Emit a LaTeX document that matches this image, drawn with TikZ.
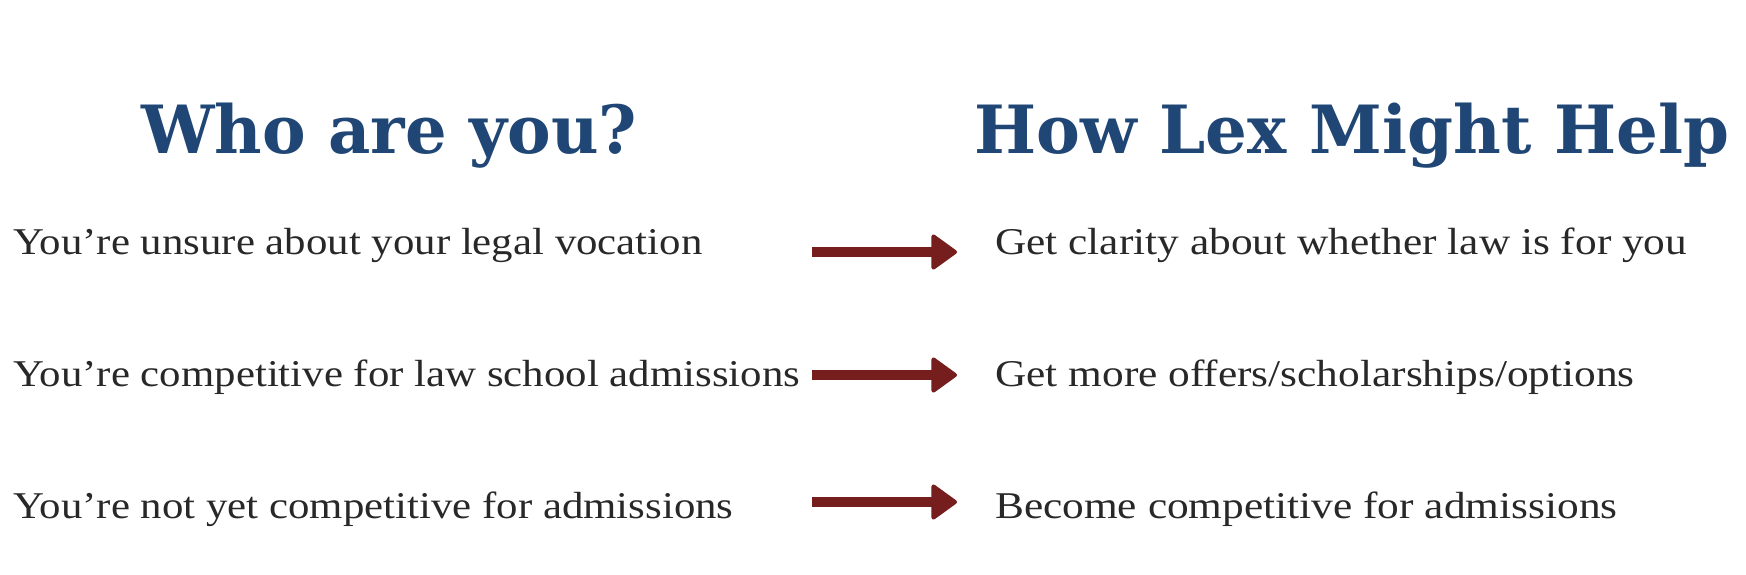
\documentclass[tikz,border=0pt]{standalone}
\usepackage{fontspec}
\setmainfont{Liberation Serif}
\newfontfamily\titlefont{DejaVu Serif}
\usetikzlibrary{arrows.meta}
\definecolor{titleblue}{RGB}{31,70,117}
\definecolor{arrowred}{RGB}{118,29,29}
\definecolor{bodygray}{RGB}{40,40,40}
\newlength\fitlen
\newcommand\bodyf{\fontsize{37.8}{40}\selectfont}
\newcommand\headf{\titlefont\bfseries\fontsize{66.5}{70}\selectfont}
\tikzset{
  bodytext/.style={inner sep=0pt, anchor=base west, text=bodygray, font=\bodyf},
  headtext/.style={inner sep=0pt, anchor=base west, text=titleblue, font=\headf},
  bigarrow/.style={draw=arrowred, line width=10pt,
    -{Triangle[length=27pt,width=38pt,round,line width=4pt]}}
}
\begin{document}
\settowidth\fitlen{\bodyf You’re competitive for law school admissions}%
\edef\lsc{\fpeval{787pt/\fitlen}}%
\settowidth\fitlen{\bodyf Get clarity about whether law is for you}%
\edef\rsc{\fpeval{692pt/\fitlen}}%
\settowidth\fitlen{\headf Who are you?}%
\edef\tlsc{\fpeval{496pt/\fitlen}}%
\settowidth\fitlen{\headf How Lex Might Help}%
\edef\trsc{\fpeval{755pt/\fitlen}}%
\begin{tikzpicture}[x=1pt,y=-1pt]
\fill[white] (0,0) rectangle (1746,574);
\useasboundingbox (0,0) rectangle (1746,574);
% titles
\node[headtext] (h1) at (141,153) {\scalebox{\tlsc}[1]{Who are you?}};
\node[headtext] (h2) at (974,153) {\scalebox{\trsc}[1]{How Lex Might Help}};
% left column
\node[bodytext] (l1) at (13,254) {\scalebox{\lsc}[1]{You’re unsure about your legal vocation}};
\node[bodytext] (l2) at (13,386) {\scalebox{\lsc}[1]{You’re competitive for law school admissions}};
\node[bodytext] (l3) at (13,518) {\scalebox{\lsc}[1]{You’re not yet competitive for admissions}};
% right column
\node[bodytext] (r1) at (995,254) {\scalebox{\rsc}[1]{Get clarity about whether law is for you}};
\node[bodytext] (r2) at (995,386) {\scalebox{\rsc}[1]{Get more offers/scholarships/options}};
\node[bodytext] (r3) at (995,518) {\scalebox{\rsc}[1]{Become competitive for admissions}};
% arrows
\coordinate (s1) at (812,252); \coordinate (e1) at (957,252);
\coordinate (s2) at (812,375); \coordinate (e2) at (957,375);
\coordinate (s3) at (812,502); \coordinate (e3) at (957,502);
\draw[bigarrow] (s1) -- (e1);
\draw[bigarrow] (s2) -- (e2);
\draw[bigarrow] (s3) -- (e3);
\end{tikzpicture}
\end{document}
